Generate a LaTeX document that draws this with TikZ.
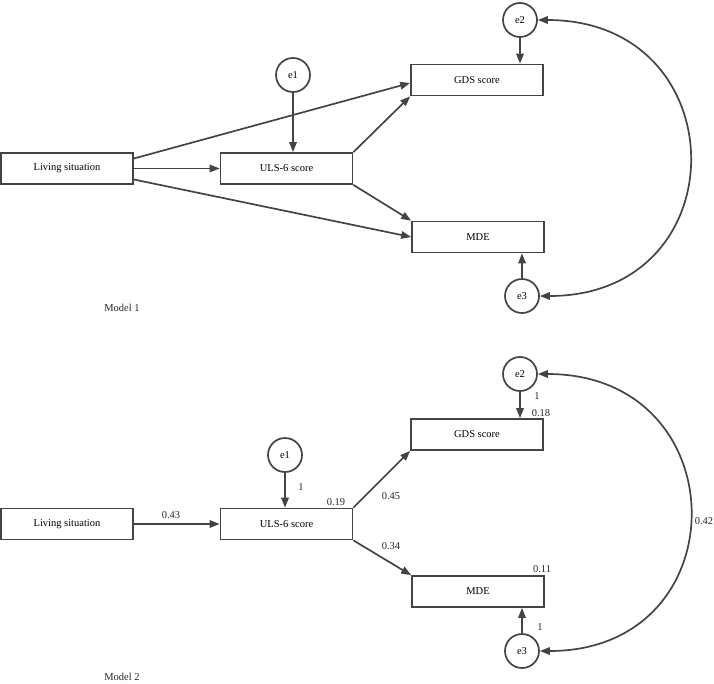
\documentclass[tikz,border=0pt]{standalone}
\usepackage{fontspec}
\setmainfont{Liberation Serif}
\usetikzlibrary{positioning, arrows.meta}
\definecolor{pathgray}{HTML}{444444}

\begin{document}
\begin{tikzpicture}[
  x=1pt, y=-1pt,
  obsvar/.style={rectangle, draw=pathgray, line width=1.7pt,
                 minimum width=132pt, minimum height=31pt, inner sep=0pt,
                 font=\fontsize{10.5}{12}\selectfont},
  errvar/.style={circle, draw=pathgray, line width=1.7pt,
                 minimum size=34pt, inner sep=0pt,
                 font=\fontsize{10.5}{12}\selectfont},
  regarr/.style={-{Triangle[length=10pt, width=7.5pt]}, line width=1.7pt, pathgray},
  covarr/.style={{Triangle[length=10pt, width=7.5pt]}-{Triangle[length=10pt, width=7.5pt]},
                 line width=1.7pt, pathgray},
  coef/.style={inner sep=0pt, text=black!85, font=\fontsize{10.5}{12}\selectfont}
]
\useasboundingbox (0,0) rectangle (714,683);

% Model 1
\node[obsvar] (liv1) at (67,168.5)  {Living situation};
\node[obsvar] (uls1) at (286.5,168.5) {ULS-6 score};
\node[obsvar] (gds1) at (477,80)    {GDS score};
\node[obsvar] (mde1) at (478,237)   {MDE};
\node[errvar] (e1a)  at (293,75)    {e1};
\node[errvar] (e2a)  at (520,20)    {e2};
\node[errvar] (e3a)  at (522,296)   {e3};
\node[coef]   (mod1) at (122,308)   {Model 1};

\draw[regarr] ([yshift=10pt]liv1.east) -- ([yshift=-3pt]gds1.west);
\draw[regarr] (liv1.east) -- (uls1.west);
\draw[regarr] ([yshift=-11pt]liv1.east) -- (mde1.west);
\draw[regarr] (uls1.north east) -- (gds1.south west);
\draw[regarr] (uls1.south east) -- (mde1.north west);
\draw[regarr] (e1a) -- (e1a |- uls1.north);
\draw[regarr] (e2a) -- (e2a |- gds1.north);
\draw[regarr] (e3a) -- (e3a |- mde1.south);
\draw[covarr] (e2a.east) to[out=0, in=0, looseness=1.85] (e3a.east);

% Model 2
\node[obsvar] (liv2) at (67,524)    {Living situation};
\node[obsvar] (uls2) at (286.5,524) {ULS-6 score};
\node[obsvar] (gds2) at (477,434.5) {GDS score};
\node[obsvar] (mde2) at (478,591.5) {MDE};
\node[errvar] (e1b)  at (285,455)   {e1};
\node[errvar] (e2b)  at (520,374)   {e2};
\node[errvar] (e3b)  at (522,651)   {e3};
\node[coef]   (mod2) at (122,677)   {Model 2};

\draw[regarr] (liv2.east) -- (uls2.west);
\draw[regarr] (uls2.north east) -- (gds2.south west);
\draw[regarr] (uls2.south east) -- (mde2.north west);
\draw[regarr] (e1b) -- (e1b |- uls2.north);
\draw[regarr] (e2b) -- (e2b |- gds2.north);
\draw[regarr] (e3b) -- (e3b |- mde2.south);
\draw[covarr] (e2b.east) to[out=0, in=0, looseness=1.85] (e3b.east);

\node[coef] (b43)  at (171,515) {0.43};
\node[coef] (r19)  at (336,502) {0.19};
\node[coef] (f1b)  at (301,487) {1};
\node[coef] (b45)  at (391,496) {0.45};
\node[coef] (b34)  at (391,546) {0.34};
\node[coef] (r18)  at (541,413) {0.18};
\node[coef] (f2b)  at (537,396) {1};
\node[coef] (r11)  at (542,569) {0.11};
\node[coef] (f3b)  at (540,627) {1};
\node[coef] (c42)  at (704,521) {0.42};
\end{tikzpicture}
\end{document}
